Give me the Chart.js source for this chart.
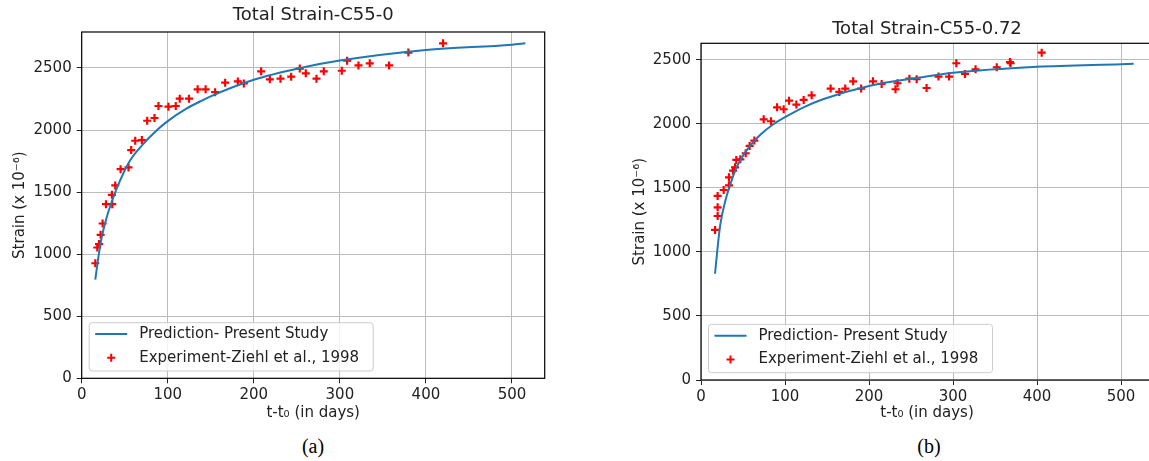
<!DOCTYPE html>
<html>
<head>
<meta charset="utf-8">
<script src="https://cdn.jsdelivr.net/npm/chart.js@4"></script>
<style>
  html, body { margin: 0; padding: 0; background: #fff; width: 1149px; height: 461px; overflow: hidden; position: relative; }
  .box { position: absolute; top: 0; }
  .cap { position: absolute; top: 435px; font: 20px 'Liberation Serif', serif; color: #000; transform: translateX(-50%); }
</style>
</head>
<body>
<div class="box" style="left:0;width:552px;height:430px"><canvas id="chartA" width="552" height="430"></canvas></div>
<div class="box" style="left:600px;width:560px;height:430px"><canvas id="chartB" width="560" height="430"></canvas></div>
<div class="cap" style="left:313px">(a)</div>
<div class="cap" style="left:929px">(b)</div>
<script>
// axis ticks
const xTicks = [0, 100, 200, 300, 400, 500];
const yTicks = [0, 500, 1000, 1500, 2000, 2500];

// (a) C55-0 : prediction curve
const predAX = [15.8, 19.3, 23.2, 29, 36.7, 44.4, 56, 71.4, 87.6, 100, 121.6, 138, 148.6, 200, 254, 300, 400, 500, 515.5];
const predAY = [795, 973, 1134, 1296, 1457, 1591, 1753, 1887, 2000, 2072, 2172, 2232, 2268, 2405, 2500, 2560, 2645, 2688, 2699];
// (a) experiment points
const expAX = [15.8, 18.1, 20.1, 22, 24.3, 28.2, 35.5, 35.1, 39, 45.2, 54.4, 57.5, 62.2, 69.9, 76.1, 84.6, 89.2, 100.8, 109.3, 113.9, 124.7, 134.7, 144, 155, 166.7, 181.4, 188.4, 208.5, 218.6, 231, 243.4, 253.4, 260.4, 272.8, 281.3, 302.2, 308.4, 321.6, 334.7, 357.2, 379.6, 419.9];
const expAY = [927, 1054, 1081, 1156, 1247, 1403, 1403, 1478, 1554, 1685, 1699, 1839, 1914, 1919, 2075, 2097, 2194, 2188, 2194, 2253, 2253, 2328, 2328, 2305, 2382, 2392, 2376, 2473, 2409, 2414, 2430, 2495, 2457, 2414, 2473, 2478, 2559, 2521, 2538, 2521, 2624, 2699];

// (b) C55-0.72 : prediction curve
const predBX = [16.7, 20, 23, 29, 35, 43, 55, 70.6, 86.5, 100, 122, 146, 200, 260, 300, 400, 500, 515];
const predBY = [830, 1050, 1215, 1400, 1530, 1670, 1800, 1915, 2000, 2053, 2130, 2195, 2297, 2362, 2400, 2447, 2467, 2470];
// (b) experiment points
const expBX = [16.7, 19.8, 19.8, 19.8, 27, 33.3, 33.3, 38.1, 40.5, 42, 46.8, 53.2, 57.9, 63.5, 74.6, 83.3, 90.5, 98.4, 104.8, 113.5, 122.2, 131.7, 154.3, 164.6, 171.7, 181.1, 190.6, 204.7, 215, 231.5, 233.9, 248, 256.7, 268.5, 282.7, 295.3, 303.9, 314.2, 326.8, 352, 367.7, 368.5, 405.5];
const expBY = [1172, 1281, 1349, 1438, 1484, 1521, 1583, 1635, 1661, 1719, 1724, 1771, 1828, 1870, 2036, 2021, 2130, 2115, 2182, 2151, 2188, 2224, 2276, 2250, 2276, 2333, 2276, 2333, 2312, 2271, 2318, 2354, 2349, 2281, 2370, 2370, 2474, 2391, 2427, 2443, 2484, 2474, 2557];

Chart.defaults.font.family = "'DejaVu Sans', sans-serif";
Chart.defaults.font.size = 15;
Chart.defaults.color = '#222';

const toPoints = (xs, ys) => xs.map((x, i) => ({ x, y: ys[i] }));

// axes frame + matplotlib style legend inside the plot (lower left)
const framePlugin = {
  id: 'frame',
  afterDraw(chart) {
    const { ctx, chartArea: a } = chart;
    ctx.save();
    ctx.strokeStyle = '#000';
    ctx.lineWidth = 1.2;
    ctx.strokeRect(a.left, a.top, a.right - a.left, a.bottom - a.top);

    const bx = a.left + 7.5, by = a.bottom - 55.6, bw = 284, bh = 48.3;
    ctx.fillStyle = 'rgba(255,255,255,0.8)';
    ctx.strokeStyle = '#cccccc';
    ctx.lineWidth = 1;
    ctx.beginPath();
    ctx.roundRect(bx, by, bw, bh, 3);
    ctx.fill();
    ctx.stroke();

    const ds = chart.data.datasets;
    const r1 = by + 11.3, r2 = by + 35;
    ctx.strokeStyle = ds[0].borderColor;
    ctx.lineWidth = 2;
    ctx.beginPath();
    ctx.moveTo(bx + 6, r1);
    ctx.lineTo(bx + 38, r1);
    ctx.stroke();

    ctx.strokeStyle = ds[1].borderColor;
    ctx.beginPath();
    ctx.moveTo(bx + 22 - 4, r2);
    ctx.lineTo(bx + 22 + 4, r2);
    ctx.moveTo(bx + 22, r2 - 4);
    ctx.lineTo(bx + 22, r2 + 4);
    ctx.stroke();

    ctx.fillStyle = '#222';
    ctx.font = "15px 'DejaVu Sans', sans-serif";
    ctx.textBaseline = 'middle';
    ctx.fillText(ds[0].label, bx + 50, r1);
    ctx.fillText(ds[1].label, bx + 50, r2);
    ctx.restore();
  }
};

function makeChart(id, title, lineX, lineY, expX, expY, yMax, geo) {
  return new Chart(document.getElementById(id), {
    type: 'scatter',
    data: {
      datasets: [{
        label: 'Prediction- Present Study',
        data: toPoints(lineX, lineY),
        showLine: true,
        borderColor: '#1f77b4',
        borderWidth: 2,
        pointRadius: 0,
        cubicInterpolationMode: 'monotone'
      }, {
        label: 'Experiment-Ziehl et al., 1998',
        data: toPoints(expX, expY),
        pointStyle: 'cross',
        pointRadius: 4,
        borderColor: '#ff0000',
        backgroundColor: '#ff0000',
        pointBorderWidth: 2.2
      }]
    },
    options: {
      responsive: false,
      animation: false,
      devicePixelRatio: 1,
      layout: { padding: { left: 0, top: 0, right: geo.padRight, bottom: 0 } },
      plugins: {
        legend: { display: false },
        tooltip: { enabled: false },
        title: {
          display: true,
          text: title,
          fullSize: false,
          color: '#222',
          font: { size: 18, weight: 'normal' },
          padding: { top: geo.titleTop, bottom: geo.titleBottom }
        }
      },
      scales: {
        x: {
          type: 'linear',
          min: 0,
          max: 538,
          afterBuildTicks: s => { s.ticks = xTicks.map(v => ({ value: v })); },
          afterFit: s => { s.height = geo.xHeight; },
          grid: { color: '#bcbcbc', lineWidth: 1, tickLength: 5, tickColor: '#222' },
          border: { display: false },
          ticks: { padding: 3, maxRotation: 0, callback: v => String(v) },
          title: { display: true, text: 't-t₀ (in days)', padding: { top: 0, bottom: 7.7 } }
        },
        y: {
          min: 0,
          max: yMax,
          afterBuildTicks: s => { s.ticks = yTicks.map(v => ({ value: v })); },
          afterFit: s => { s.width = geo.yWidth; },
          grid: { color: '#bcbcbc', lineWidth: 1, tickLength: 5, tickColor: '#222' },
          border: { display: false },
          ticks: { padding: 5, callback: v => String(v) },
          title: { display: true, text: 'Strain (x 10⁻⁶)', padding: { top: geo.yTitlePad, bottom: 0 } }
        }
      }
    },
    plugins: [framePlugin]
  });
}

makeChart('chartA', 'Total Strain-C55-0', predAX, predAY, expAX, expAY, 2790,
  { padRight: 7.3, titleTop: 4.2, titleBottom: 6.2, xHeight: 51.7, yWidth: 81.7, yTitlePad: 11 });
makeChart('chartB', 'Total Strain-C55-0.72', predBX, predBY, expBX, expBY, 2630,
  { padRight: 7, titleTop: 18.5, titleBottom: 3.2, xHeight: 50, yWidth: 101, yTitlePad: 31 });
</script>
</body>
</html>
